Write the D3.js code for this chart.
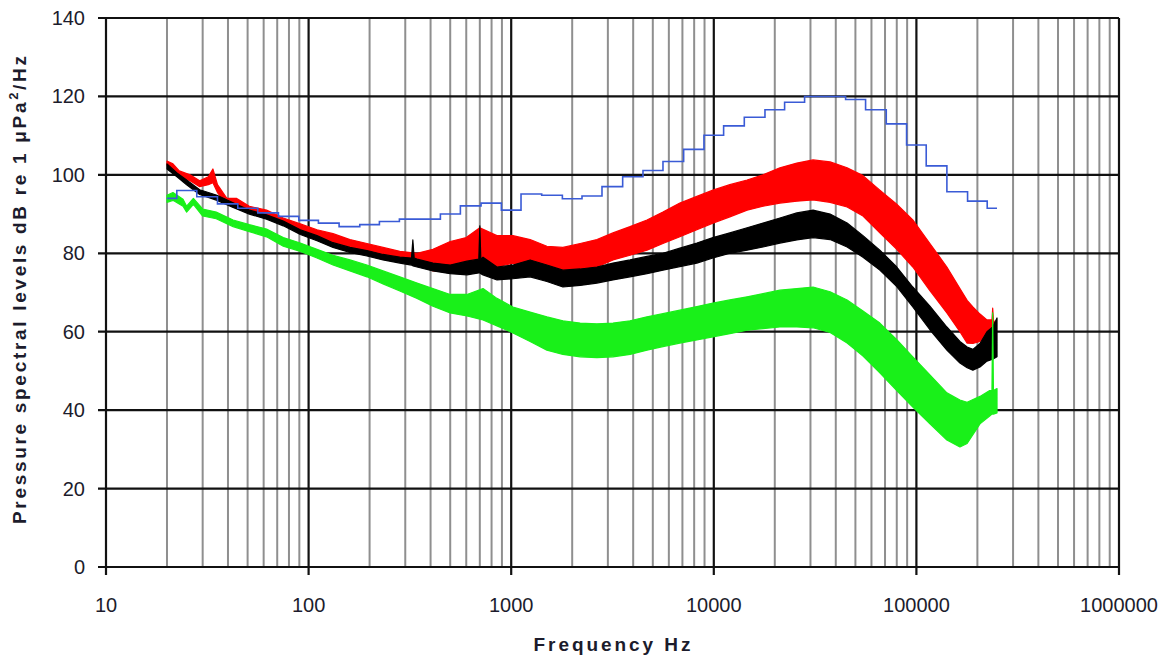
<!DOCTYPE html>
<html lang="en">
  <head>
    <meta charset="UTF-8" />
    <title>Pressure spectral levels</title>
    <script src="https://d3js.org/d3.v7.min.js"></script>
    <style>
      body {
        margin: 0;
        background: #fff;
      }
      svg {
        display: block;
      }
      .tick-label {
        font: 20px "Liberation Sans", Arial, sans-serif;
        fill: #1c1c2c;
      }
      .axis-title {
        font: bold 19px "Liberation Sans", Arial, sans-serif;
        fill: #1c1c2c;
      }
    </style>
  </head>
  <body>
    <svg width="1175" height="657"></svg>

    <script>
      // x ticks (Hz) and y ticks (dB)
      const xTicks = [10, 100, 1000, 10000, 100000, 1000000];
      const yTicks = [0, 20, 40, 60, 80, 100, 120, 140];

      // blue: 1/3 octave band levels
      const bandFreqs = [
        20, 25, 31.5, 40, 50, 63, 80, 100, 125, 160, 200, 250, 315, 400, 500,
        630, 800, 1000, 1250, 1600, 2000, 2500, 3150, 4000, 5000, 6300, 8000,
        10000, 12500, 16000, 20000, 25000, 31500, 40000, 50000, 63000, 80000,
        100000, 125000, 160000, 200000, 250000,
      ];
      const bandLevels = [
        94, 96, 94.4, 92.6, 91.5, 90.3, 89.4, 88.4, 87.7, 86.8, 87.3, 88.1,
        88.7, 88.7, 90, 92.1, 92.8, 91, 95.1, 94.8, 93.9, 94.6, 97, 99.5,
        101.1, 103.4, 106.5, 110.1, 112.5, 114.7, 116.6, 118.5, 120, 120,
        119.2, 116.6, 113, 107.6, 102.3, 95.7, 93.3, 91.5,
      ];

      // spectra envelopes: [freq, low dB, high dB]
      const redSpectrum = [
        [20, 102.5, 103.5], [21.4, 101.5, 102.8], [23, 99.5, 101],
        [26, 98.5, 100], [29, 97, 98.5], [32, 97.5, 99.5], [33.7, 98, 101.5],
        [35.5, 95.5, 97.5], [39.5, 92.5, 94], [44, 92.5, 94], [51, 90.5, 92],
        [62, 89.5, 91], [75, 87.5, 89], [91, 85.5, 87.5], [110, 84, 86],
        [132, 82.8, 85], [160, 81.5, 83.5], [194, 80.5, 82.5],
        [233, 79.5, 81.5], [282, 78.5, 80.5], [343, 77.5, 80],
        [411, 75.5, 81], [500, 75.5, 83], [600, 76, 84], [700, 76.5, 86.5],
        [850, 76.5, 84.5], [1020, 77.5, 84.5], [1240, 77, 83.5],
        [1500, 75.7, 81.8], [1800, 75.3, 81.5], [2190, 75.5, 82.5],
        [2650, 76.5, 83.5], [3180, 78.3, 85.2], [3860, 79.5, 86.8],
        [4680, 80.8, 88.5], [5610, 82.5, 90.5], [6800, 84.2, 92.8],
        [8250, 86, 94.5], [9900, 87.7, 96.1], [12000, 89.3, 97.5],
        [14600, 91, 98.7], [17500, 92, 100], [21200, 92.8, 101.8],
        [25700, 93.3, 103], [30900, 93.6, 103.8], [37500, 93, 103.3],
        [45500, 91.8, 101.8], [54500, 89.5, 99.8], [66000, 85.2, 96.1],
        [80000, 81, 92.5], [96000, 76.5, 88.5], [116600, 70.5, 82.5],
        [141400, 64.8, 76.5], [164000, 60, 71], [178000, 57.1, 68],
        [190000, 57, 66.3], [206000, 57.5, 64.5], [223000, 59.7, 63],
        [236000, 60, 63], [238000, 60, 66], [240000, 60, 63],
        [245000, 60.5, 62],
      ];
      const blackSpectrum = [
        [20, 101.5, 102.8], [22.4, 99.5, 100.5], [25, 97.5, 98.7],
        [29, 95, 96.2], [35.3, 93.5, 94.8], [42.4, 91.7, 92.9], [51, 90, 91],
        [62, 88.7, 89.8], [75, 87, 88.2], [91, 84.8, 86], [110, 83.2, 84.5],
        [132, 81.5, 82.7], [160, 80.2, 81.5], [194, 79.3, 80.7],
        [233, 78.3, 79.7], [282, 77.5, 79], [322, 77, 78.8],
        [327, 76.8, 83.4], [332, 76.7, 78.8], [343, 76.5, 78.5],
        [411, 75.5, 77.5], [500, 74.8, 77], [605, 74.5, 78],
        [692, 75, 78.5], [700, 75, 87], [708, 74.8, 78.5],
        [726, 74.5, 79], [851, 73.2, 76.5],
        [1020, 73.5, 77], [1240, 74, 78.3], [1500, 72.8, 77],
        [1800, 71.4, 75.7], [2190, 71.8, 76], [2650, 72.4, 76.5],
        [3180, 73.2, 77.5], [3860, 74, 78.3], [4680, 74.8, 79.2],
        [5610, 75.7, 80], [6800, 76.6, 81.3], [8250, 77.5, 82.6],
        [9900, 78.8, 84], [12000, 80, 85.2], [14600, 80.8, 86.5],
        [17500, 81.6, 87.7], [21200, 82.6, 89], [25700, 83.4, 90.3],
        [30900, 84, 91], [37500, 83.5, 90], [45500, 81.6, 87.7],
        [54500, 79, 84.5], [66000, 75.7, 80.8], [80000, 71.5, 76.5],
        [96000, 66.3, 71.4], [116600, 60.5, 66.5], [141400, 55.3, 61.2],
        [164000, 52, 57.5], [178000, 50.8, 56.1], [190000, 50.2, 55.5],
        [206000, 51, 57], [223000, 52.5, 60], [238000, 53, 61.2],
        [250000, 53.6, 63.5],
      ];
      const greenSpectrum = [
        [20, 93, 94.8], [21.4, 93.5, 95.5], [24, 92, 93.8], [25, 90.5, 92],
        [27, 92.5, 94], [30, 89.5, 91.3], [35, 88.8, 90.5],
        [42.4, 86.8, 88.5], [51, 85.5, 87.3], [62, 84.2, 86.2],
        [75, 81.8, 84], [91, 80.5, 82.6], [110, 78.8, 81], [132, 77, 79.5],
        [160, 75.5, 78.3], [194, 74, 77], [233, 72.2, 75.5],
        [282, 70.4, 74], [343, 68.5, 72.4], [411, 66.5, 71],
        [500, 64.8, 69.5], [605, 64, 69.5], [726, 63, 71],
        [851, 61.5, 68.5], [1020, 59.7, 66.3], [1240, 57.5, 65],
        [1500, 55.3, 63.8], [1800, 54.2, 62.8], [2190, 53.6, 62.2],
        [2650, 53.4, 62], [3180, 53.6, 62.2], [3860, 54.2, 62.8],
        [4680, 55.3, 63.8], [5610, 56.2, 64.6], [6800, 57.1, 65.5],
        [8250, 57.9, 66.4], [9900, 58.7, 67.3], [12000, 59.5, 68.1],
        [14600, 60.4, 68.9], [17500, 60.8, 69.7], [21200, 61.2, 70.6],
        [25700, 61.2, 71], [30900, 61, 71.4], [37500, 59.8, 70.2],
        [45500, 57.1, 68.1], [54500, 53.8, 65.3], [66000, 49.5, 62.2],
        [80000, 45, 58], [96000, 40.8, 53.6], [116600, 36.5, 49],
        [141400, 32.4, 44.4], [164000, 30.6, 42.6], [178000, 31.5, 42],
        [206000, 36.5, 43.5], [230000, 38.5, 45], [236000, 39, 45],
        [238000, 39, 64.8], [240000, 39, 45], [250000, 39.3, 45.5],
      ];

      const svg = d3.select("svg");
      const plotLeft = 106,
        plotRight = 1119,
        plotTop = 18,
        plotBottom = 567;

      const x = d3.scaleLog().domain([10, 1000000]).range([plotLeft, plotRight]);
      const y = d3.scaleLinear().domain([0, 140]).range([plotBottom, plotTop]);

      // minor vertical grid (2..9 in each decade)
      const minor = [];
      for (let d = 10; d < 1000000; d *= 10) {
        for (let k = 2; k <= 9; k++) minor.push(d * k);
      }
      svg
        .append("g")
        .selectAll("line")
        .data(minor)
        .enter()
        .append("line")
        .attr("x1", (d) => x(d))
        .attr("x2", (d) => x(d))
        .attr("y1", plotTop)
        .attr("y2", plotBottom)
        .attr("stroke", "#8f8f8f")
        .attr("stroke-width", 2);

      // major grid
      svg
        .append("g")
        .selectAll("line")
        .data(xTicks)
        .enter()
        .append("line")
        .attr("x1", (d) => x(d))
        .attr("x2", (d) => x(d))
        .attr("y1", plotTop)
        .attr("y2", plotBottom + 8)
        .attr("stroke", "#111")
        .attr("stroke-width", 2.2);

      svg
        .append("g")
        .selectAll("line")
        .data(yTicks)
        .enter()
        .append("line")
        .attr("x1", plotLeft - 8)
        .attr("x2", plotRight)
        .attr("y1", (d) => y(d))
        .attr("y2", (d) => y(d))
        .attr("stroke", "#111")
        .attr("stroke-width", 2.2);

      // tick labels
      svg
        .append("g")
        .selectAll("text")
        .data(yTicks)
        .enter()
        .append("text")
        .attr("class", "tick-label")
        .attr("x", plotLeft - 21)
        .attr("y", (d) => y(d) + 7)
        .attr("text-anchor", "end")
        .text((d) => d);

      svg
        .append("g")
        .selectAll("text")
        .data(xTicks)
        .enter()
        .append("text")
        .attr("class", "tick-label")
        .attr("x", (d) => x(d))
        .attr("y", 612)
        .attr("text-anchor", "middle")
        .text((d) => d);

      // spectra as filled envelopes
      const band = d3
        .area()
        .x((d) => x(d[0]))
        .y0((d) => y(d[1]))
        .y1((d) => y(d[2]));

      const spectra = [
        { data: redSpectrum, color: "#ff0000" },
        { data: blackSpectrum, color: "#000000" },
        { data: greenSpectrum, color: "#19f019" },
      ];
      spectra.forEach((s) => {
        svg
          .append("path")
          .datum(s.data)
          .attr("d", band)
          .attr("fill", s.color)
          .attr("stroke", s.color)
          .attr("stroke-width", 1.2)
          .attr("stroke-linejoin", "round");
      });

      // 1/3 octave band line
      const bandLine = d3
        .line()
        .curve(d3.curveStep)
        .x((d, i) => x(bandFreqs[i]))
        .y((d) => y(d));

      svg
        .append("path")
        .datum(bandLevels)
        .attr("d", bandLine)
        .attr("fill", "none")
        .attr("stroke", "#3a5bd6")
        .attr("stroke-width", 1.6);

      // axis titles
      svg
        .append("text")
        .attr("class", "axis-title")
        .attr("transform", "translate(26,290) rotate(-90)")
        .attr("text-anchor", "middle")
        .attr("textLength", 468)
        .attr("lengthAdjust", "spacing")
        .text("Pressure spectral levels dB re 1 ")
        .append("tspan")
        .text("μPa")
        .append("tspan")
        .attr("dy", -8)
        .attr("font-size", 13)
        .text("2")
        .append("tspan")
        .attr("dy", 8)
        .attr("font-size", 19)
        .text("/Hz");

      svg
        .append("text")
        .attr("class", "axis-title")
        .attr("x", 612)
        .attr("y", 651)
        .attr("text-anchor", "middle")
        .attr("textLength", 157)
        .attr("lengthAdjust", "spacing")
        .text("Frequency Hz");
    </script>
  </body>
</html>
